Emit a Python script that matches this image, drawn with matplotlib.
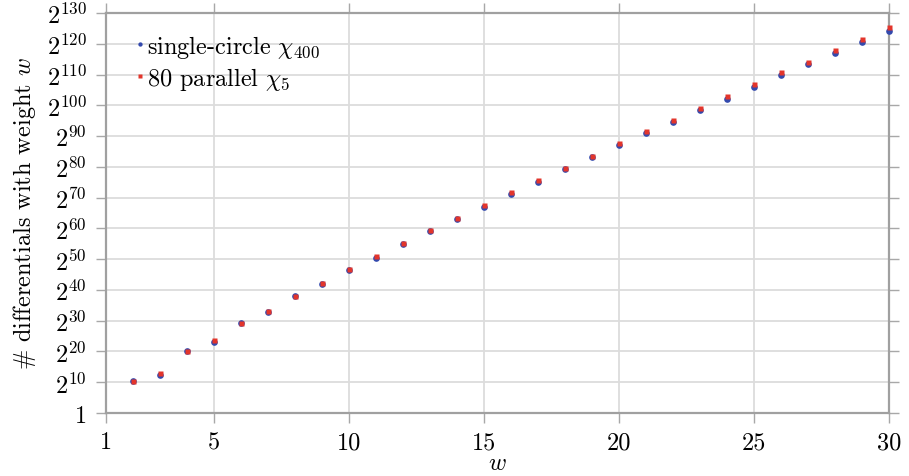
import numpy as np
import matplotlib.pyplot as plt
from matplotlib.ticker import FixedLocator, NullLocator

plt.rcParams['font.family'] = 'cmr10'
plt.rcParams['mathtext.fontset'] = 'cm'
plt.rcParams['axes.formatter.use_mathtext'] = True

# weight w and log2 of the number of differentials with that weight
weights = list(range(2, 31))
log2_single = [10.4, 12.4, 20.1, 23.0, 29.2, 32.8, 38.0, 41.8, 46.6, 50.5,
               54.8, 59.0, 63.1, 67.1, 71.2, 75.1, 79.2, 83.1, 87.1, 91.0,
               94.7, 98.4, 102.2, 105.9, 109.7, 113.4, 117.0, 120.6, 124.3]
log2_parallel = [10.4, 13.0, 20.1, 23.7, 29.2, 33.1, 38.0, 42.2, 46.8, 51.0,
                 55.4, 59.5, 63.5, 67.7, 71.7, 75.7, 79.7, 83.6, 87.7, 91.5,
                 95.3, 99.2, 103.0, 106.8, 110.7, 114.2, 118.0, 121.7, 125.4]
x_ticks = [1, 5, 10, 15, 20, 25, 30]
y_exps = list(range(0, 131, 10))

fs = 17.5
fig = plt.figure(figsize=(9.09, 4.77), dpi=100)
ax = fig.add_axes([106/909, 1-414/477, (889-106)/909, (414-14)/477])

ax.set_yscale('log', base=2)
ax.plot(weights, 2.0 ** np.array(log2_single), 'o', color='#3349ad',
        ms=4.8, mec='none', clip_on=False, zorder=3,
        label=r'single-circle $\chi_{400}$')
ax.plot(weights, 2.0 ** np.array(log2_parallel), 's', color='#e3352b',
        ms=3.6, mec='none', clip_on=False, zorder=4,
        label=r'80 parallel $\chi_5$')

ax.set_xlim(1, 30)
ax.set_ylim(1, 2.0 ** 130)
ax.xaxis.set_major_locator(FixedLocator(x_ticks))
ax.set_xticklabels([str(t) for t in x_ticks])
ax.yaxis.set_major_locator(FixedLocator([2.0 ** e for e in y_exps]))
ax.yaxis.set_minor_locator(NullLocator())
ax.set_yticklabels(['1'] + [r'$2^{%d}$' % e for e in y_exps[1:]])

ax.grid(True, color='#dcdcdc', lw=1.3)
ax.set_axisbelow(True)
for s in ax.spines.values():
    s.set_color('#a0a0a0')
    s.set_linewidth(1.6)
ax.tick_params(which='major', direction='out', length=7, width=1.0,
               color='#a8a8a8', labelsize=fs, top=True, right=True,
               labeltop=False, labelright=False)
ax.tick_params(axis='x', pad=6)
ax.tick_params(axis='y', pad=7)

ax.set_xlabel('$w$', fontsize=fs, labelpad=-1)
ax.set_ylabel('# differentials with weight $w$', fontsize=fs, labelpad=6)

ax.legend(loc='upper left', bbox_to_anchor=(0.025, 0.975), frameon=False,
          fontsize=fs, handlelength=0.4, handletextpad=0.1, markerscale=0.65,
          labelspacing=0.2, borderaxespad=0)

fig.savefig('out.png', dpi=100)
